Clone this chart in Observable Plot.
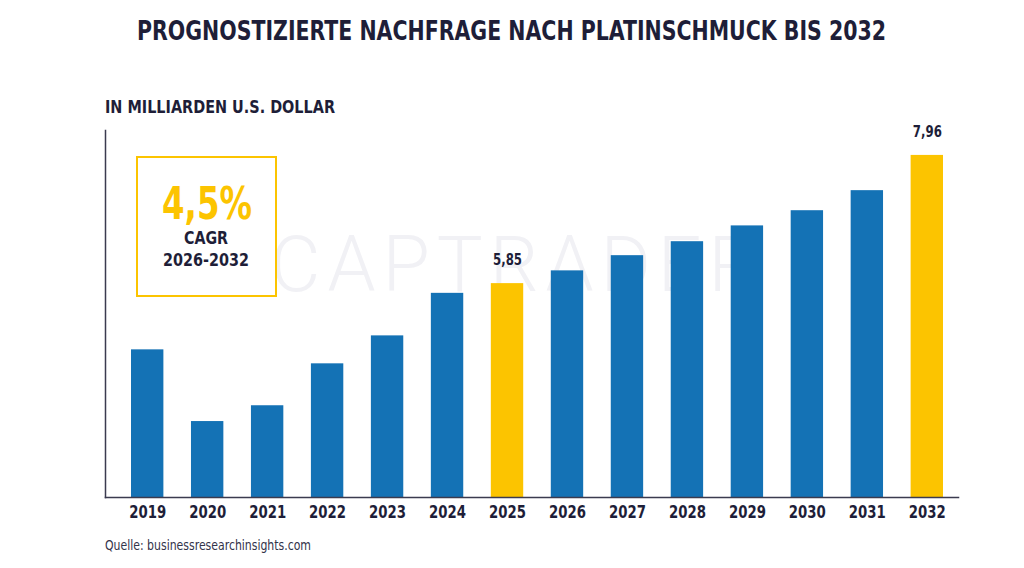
<!DOCTYPE html>
<html>
<head>
<meta charset="utf-8">
<script src="https://cdn.jsdelivr.net/npm/d3@7"></script>
<script src="https://cdn.jsdelivr.net/npm/@observablehq/plot@0.6"></script>
<style>
  html, body { margin: 0; padding: 0; background: #fff; }
  #wrap { position: relative; width: 1024px; height: 568px; overflow: hidden; font-family: 'Liberation Sans Narrow', 'DejaVu Sans Condensed', Roboto, sans-serif; color: #1e1e38; }
  #chart { position: absolute; left: 0; top: 0; }
  .abs { position: absolute; white-space: nowrap; line-height: 1; transform-origin: left top; }
  #title { font-weight: 700; font-size: 26px; top: 18px; left: 137px; }
  #subtitle { font-weight: 700; font-size: 18px; top: 98px; left: 105px; }
  #source { font-weight: 400; font-size: 14px; top: 538px; left: 105px; color: #33334a; }
  #cagrbox { position: absolute; left: 136px; top: 156px; width: 141px; height: 141px; box-sizing: border-box; border: 2px solid #fcc400; }
  #cagr { font-weight: 700; font-size: 44px; color: #fcc400; top: 182px; left: 162px; }
  #cagrlab { font-weight: 700; font-size: 18px; top: 229px; left: 184px; }
  #cagrper { font-weight: 700; font-size: 18px; top: 251px; left: 163px; }
</style>
</head>
<body>
<div id="wrap">
  <div id="chart"></div>
  <div id="title" class="abs">PROGNOSTIZIERTE NACHFRAGE NACH PLATINSCHMUCK BIS 2032</div>
  <div id="subtitle" class="abs">IN MILLIARDEN U.S. DOLLAR</div>
  <div id="cagrbox"></div>
  <div id="cagr" class="abs">4,5%</div>
  <div id="cagrlab" class="abs">CAGR</div>
  <div id="cagrper" class="abs">2026-2032</div>
  <div id="source" class="abs">Quelle: businessresearchinsights.com</div>
</div>
<script>
const years = ["2019","2020","2021","2022","2023","2024","2025","2026","2027","2028","2029","2030","2031","2032"];
const values = [4.76, 3.58, 3.84, 4.53, 4.99, 5.69, 5.85, 6.06, 6.31, 6.54, 6.80, 7.05, 7.38, 7.96];
const highlighted = ["2025", "2032"];
const labelled = ["2025", "2032"];

const data = years.map((y, i) => ({year: y, value: values[i], hi: highlighted.includes(y)}));
const fmt = v => d3.format(".2f")(v).replace(".", ",");

const chart = Plot.plot({
  width: 1024,
  height: 568,
  marginTop: 130,
  marginBottom: 71,
  marginLeft: 105,
  marginRight: 66,
  style: {fontFamily: "'Liberation Sans Narrow', 'DejaVu Sans Condensed', Roboto, sans-serif", background: "transparent"},
  x: {domain: years, range: [131, 943], paddingInner: 0.46, paddingOuter: 0, round: false, label: null},
  y: {domain: [2.33, 8.37], axis: null},
  marks: [
    Plot.text(["CAPTRADER"], {frameAnchor: "middle", text: d => d, dx: -18, dy: -48, fontSize: 77, fontWeight: 300, fill: "#f1f1f5", fontFamily: "Roboto, sans-serif", className: "wm"}),
    Plot.barY(data, {x: "year", y1: 2.33, y2: "value", fill: d => d.hi ? "#fcc400" : "#1472b5"}),
    Plot.text(data.filter(d => labelled.includes(d.year)), {x: "year", y: "value", text: d => fmt(d.value), dy: -24, fontSize: 16, fontWeight: 700, fill: "#1e1e38", className: "vl"}),
    Plot.axisX({tickSize: 0, tickPadding: 8, fontSize: 18, fontWeight: 700, color: "#1e1e38", label: null}),
    Plot.frame({anchor: "left", stroke: "#3b3b4f", strokeWidth: 1.5}),
    Plot.frame({anchor: "bottom", stroke: "#3b3b4f", strokeWidth: 1.5})
  ]
});
document.getElementById("chart").appendChild(chart);

// watermark spread to its width
d3.select(chart).selectAll("g.wm text").attr("textLength", 487).attr("lengthAdjust", "spacing");
d3.select(chart).selectAll("g[aria-label='x-axis tick label'] text")
  .style("font-weight", 700).style("font-size", "18px").attr("fill", "#1e1e38")
  .attr("textLength", 37).attr("lengthAdjust", "spacingAndGlyphs");
d3.select(chart).selectAll("g.vl text").attr("textLength", 29).attr("lengthAdjust", "spacingAndGlyphs");

// fit html texts to target widths
function fit(id, w) {
  const el = document.getElementById(id);
  const nat = el.getBoundingClientRect().width;
  el.style.transform = `scaleX(${w / nat})`;
}
fit("title", 749);
fit("subtitle", 230);
fit("source", 206);
fit("cagr", 90);
fit("cagrlab", 44);
fit("cagrper", 86);
</script>
</body>
</html>
